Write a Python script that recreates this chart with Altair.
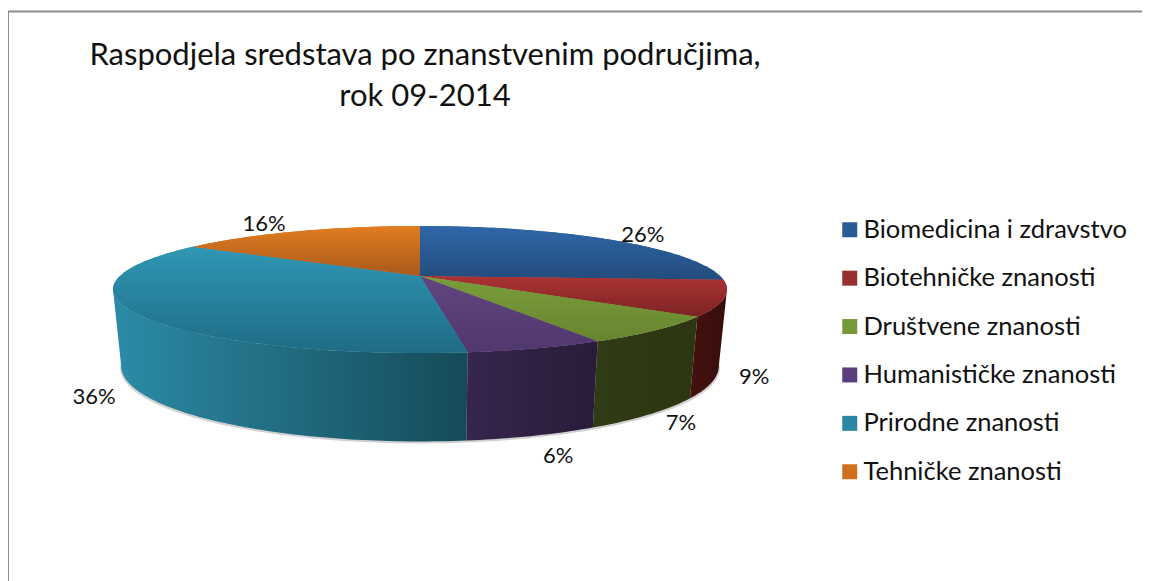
import math
import altair as alt

categories = ["Biomedicina i zdravstvo", "Biotehničke znanosti", "Društvene znanosti",
              "Humanističke znanosti", "Prirodne znanosti", "Tehničke znanosti"]
shares = [26, 9, 7, 6, 36, 16]
labels = ["26%", "9%", "7%", "6%", "36%", "16%"]
legend_colors = ["#2a5b96", "#993030", "#76993a", "#5a3f7c", "#2a88a5", "#d0701f"]
top_stops = [("#2f67a9", "#234c7c"), ("#ab3333", "#7c2424"), ("#7a9e3a", "#678530"),
             ("#62457f", "#50376e"), ("#2f97b5", "#1f6c84"), ("#e27c20", "#a8591c")]
wall_stops = [("#1a3358", "#1a3358"), ("#451210", "#360d0c"), ("#303c15", "#2c3612"),
              ("#37254d", "#291c38"), ("#2b8ba6", "#164a59"), ("#8a4a14", "#8a4a14")]
label_nudge = [(32, -5), (30, 79), (25, 93), (22, 108), (-40, 84), (-34, -7)]

CX, K = 412, 0.2126
TOP = dict(a=300, cy=268, b=60.6)
BOT = dict(a=292, cy=342, b=72)
FONT = "Lato"


def rim(deg, a, cy, b):
    t = math.radians(deg)
    X, Y = math.sin(t), math.cos(t)
    d = 1 + K * Y
    return [CX + a * X / d, cy - b * Y / d]


def arc(d0, d1, ring):
    n = max(2, int(abs(d1 - d0)) + 1)
    return [rim(d0 + (d1 - d0) * i / (n - 1), **ring) for i in range(n)]


def feature(name, ring):
    return {"type": "Feature", "properties": {"name": name},
            "geometry": {"type": "Polygon", "coordinates": [ring + [ring[0]]]}}


edges = [0]
for s in shares:
    edges.append(edges[-1] + s * 3.6)

projection = alt.Projection(type="identity", scale=1, translate=[0, 0])


def grad(c0, c1, horizontal):
    return alt.LinearGradient(
        gradient="linear", x1=0, y1=0,
        x2=1 if horizontal else 0, y2=0 if horizontal else 1,
        stops=[alt.GradientStop(color=c0, offset=0), alt.GradientStop(color=c1, offset=1)])


tops, walls = [], []
for i, name in enumerate(categories):
    d0, d1 = edges[i], edges[i + 1]
    tops.append(feature(name, [[CX, TOP["cy"]]] + arc(d0, d1, TOP)))
    w0, w1 = max(d0, 102), min(d1, 258)
    if w1 > w0:
        walls.append((i, feature(name, arc(w0, w1, TOP) + arc(w1, w0, BOT))))

layers = []
frame_color = "#8c8c8c"
layers.append(alt.Chart(alt.Data(values=[{"a": 0}])).mark_rule(color=frame_color, strokeWidth=2)
              .encode(x=alt.value(0), y=alt.value(3.5), y2=alt.value(573)))
layers.append(alt.Chart(alt.Data(values=[{"a": 0}])).mark_rule(color=frame_color, strokeWidth=2)
              .encode(x=alt.value(0), x2=alt.value(1134), y=alt.value(3.5)))

shadow = feature("shadow", arc(0, 360, dict(a=293, cy=344, b=72)))
layers.append(alt.Chart(alt.Data(values=[shadow])).mark_geoshape(fill="#9a9a9a", opacity=0.45, stroke=None)
              .project(**projection.to_dict()))

for i, f in walls:
    a, b = wall_stops[i]
    layers.append(alt.Chart(alt.Data(values=[f])).mark_geoshape(fill=grad(a, b, True), stroke=None)
                  .project(**projection.to_dict()))

layers.append(
    alt.Chart(alt.Data(values=tops)).mark_geoshape(stroke=None).encode(
        color=alt.Color("properties.name:N",
                        scale=alt.Scale(domain=categories, range=legend_colors),
                        sort=None,
                        legend=alt.Legend(title=None, orient="none", legendX=829, legendY=209,
                                          symbolType="square", symbolSize=225, symbolStrokeWidth=0,
                                          labelFont=FONT, labelFontSize=25.5, labelColor="#111111",
                                          labelOffset=1, rowPadding=21.4, labelLimit=320))
    ).project(**projection.to_dict())
)
for i, f in enumerate(tops):
    a, b = top_stops[i]
    layers.append(alt.Chart(alt.Data(values=[f])).mark_geoshape(fill=grad(a, b, False), stroke=None)
                  .project(**projection.to_dict()))

points = []
for i, lab in enumerate(labels):
    p = rim((edges[i] + edges[i + 1]) / 2, **TOP)
    points.append({"lon": p[0] + label_nudge[i][0], "lat": p[1] + label_nudge[i][1], "label": lab})
layers.append(
    alt.Chart(alt.Data(values=points)).mark_text(font=FONT, fontSize=22, color="#111111").encode(
        longitude="lon:Q", latitude="lat:Q", text="label:N"
    ).project(**projection.to_dict())
)

chart = alt.layer(*layers).properties(
    width=1134, height=573, padding=0,
    autosize=alt.AutoSizeParams(type="none"),
    title=alt.TitleParams(
        text=["Raspodjela sredstava po znanstvenim područjima,", "rok 09-2014"],
        font=FONT, fontSize=31, fontWeight="normal", color="#111111",
        anchor="start", align="center", baseline="alphabetic",
        dx=418, dy=129, offset=0, lineHeight=41),
).configure_view(stroke=None).resolve_scale(color="independent")

chart.save("out.html", embed_options={"renderer": "svg", "actions": False})
